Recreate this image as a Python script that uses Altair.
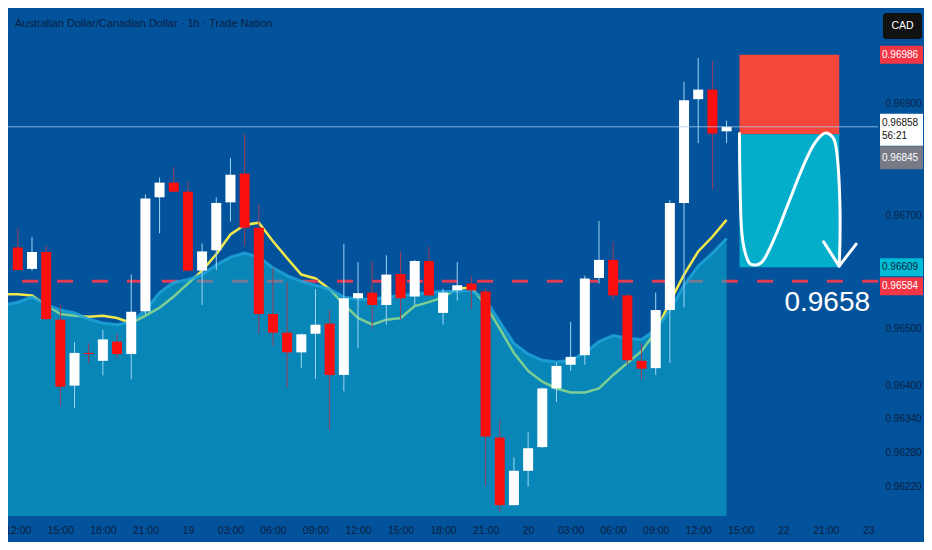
import altair as alt
import pandas as pd

# ---------------- data ----------------
TITLE = "Australian Dollar/Canadian Dollar · 1h · Trade Nation"

bar_index = list(range(51))
opens = [0.96644, 0.96606, 0.96636, 0.96516, 0.96399, 0.96457, 0.96443, 0.96477, 0.96455, 0.96531,
         0.96733, 0.96759, 0.96743, 0.96603, 0.96639, 0.96724, 0.96775, 0.96679, 0.96526, 0.96493,
         0.96458, 0.96491, 0.96509, 0.96418, 0.96554, 0.96564, 0.96542, 0.96597, 0.96557, 0.96620,
         0.96528, 0.96568, 0.96580, 0.96566, 0.96307, 0.96187, 0.96248, 0.96290, 0.96394, 0.96436,
         0.96453, 0.96590, 0.96622, 0.96559, 0.96443, 0.96430, 0.96533, 0.96723, 0.96907, 0.96924,
         0.96850]
highs = [0.96679, 0.96663, 0.96648, 0.96542, 0.96476, 0.96474, 0.96498, 0.96491, 0.96596, 0.96738,
         0.96768, 0.96787, 0.96761, 0.96651, 0.96733, 0.96803, 0.96846, 0.96721, 0.96608, 0.96582,
         0.96491, 0.96570, 0.96533, 0.96650, 0.96618, 0.96620, 0.96630, 0.96637, 0.96622, 0.96646,
         0.96571, 0.96618, 0.96594, 0.96573, 0.96338, 0.96272, 0.96316, 0.96396, 0.96439, 0.96512,
         0.96594, 0.96691, 0.96655, 0.96563, 0.96474, 0.96564, 0.96728, 0.96938, 0.96980, 0.96975,
         0.96869]
lows = [0.96603, 0.96603, 0.96516, 0.96364, 0.96359, 0.96439, 0.96417, 0.96448, 0.96410, 0.96526,
        0.96669, 0.96742, 0.96601, 0.96542, 0.96604, 0.96690, 0.96648, 0.96491, 0.96469, 0.96396,
        0.96430, 0.96411, 0.96321, 0.96389, 0.96465, 0.96500, 0.96507, 0.96516, 0.96542, 0.96557,
        0.96507, 0.96550, 0.96535, 0.96222, 0.96175, 0.96187, 0.96220, 0.96288, 0.96370, 0.96425,
        0.96436, 0.96580, 0.96550, 0.96437, 0.96410, 0.96418, 0.96439, 0.96538, 0.96829, 0.96747,
        0.96829]
closes = [0.96604, 0.96636, 0.96517, 0.96397, 0.96457, 0.96455, 0.96481, 0.96455, 0.96530, 0.96731,
          0.96759, 0.96743, 0.96603, 0.96637, 0.96723, 0.96773, 0.96679, 0.96526, 0.96493, 0.96458,
          0.96490, 0.96507, 0.96418, 0.96554, 0.96563, 0.96542, 0.96596, 0.96554, 0.96620, 0.96559,
          0.96564, 0.96577, 0.96568, 0.96309, 0.96187, 0.96248, 0.96288, 0.96394, 0.96434, 0.96450,
          0.96589, 0.96622, 0.96559, 0.96444, 0.96429, 0.96533, 0.96723, 0.96905, 0.96924, 0.96846,
          0.96858]

line_index = list(range(-1, 51))
ma_values = [0.96561, 0.96561, 0.96559, 0.96542, 0.96526, 0.96523, 0.96521, 0.96523, 0.96519, 0.96510,
             0.96523, 0.96537, 0.96557, 0.96580, 0.96603, 0.96632, 0.96667, 0.96684, 0.96688, 0.96655,
             0.96625, 0.96596, 0.96589, 0.96570, 0.96543, 0.96519, 0.96507, 0.96516, 0.96519, 0.96540,
             0.96547, 0.96556, 0.96571, 0.96573, 0.96542, 0.96500, 0.96457, 0.96425, 0.96406, 0.96394,
             0.96387, 0.96387, 0.96394, 0.96418, 0.96439, 0.96460, 0.96495, 0.96547, 0.96596, 0.96637,
             0.96663, 0.96693]
cloud_top = [0.96542, 0.96547, 0.96556, 0.96543, 0.96533, 0.96528, 0.96517, 0.96510, 0.96507, 0.96512,
             0.96533, 0.96564, 0.96582, 0.96587, 0.96596, 0.96613, 0.96627, 0.96634, 0.96627, 0.96608,
             0.96594, 0.96584, 0.96577, 0.96570, 0.96556, 0.96552, 0.96552, 0.96556, 0.96559, 0.96561,
             0.96564, 0.96566, 0.96566, 0.96568, 0.96552, 0.96512, 0.96474, 0.96455, 0.96444, 0.96441,
             0.96444, 0.96457, 0.96477, 0.96488, 0.96483, 0.96481, 0.96498, 0.96533, 0.96577, 0.96611,
             0.96634, 0.96660]

tick_index = list(range(0, 61, 3))
tick_labels = ["12:00", "15:00", "18:00", "21:00", "19", "03:00", "06:00", "09:00", "12:00", "15:00",
               "18:00", "21:00", "20", "03:00", "06:00", "09:00", "12:00", "15:00", "22", "21:00", "23"]
price_ticks = [0.969, 0.967, 0.965, 0.964, 0.9634, 0.9628, 0.9622]

dashed_level = 0.96584
last_price = 0.96858
countdown = "56:21"
entry_price = 0.96845
stop_price = 0.96986
target_price = 0.96609
trade_start = 50.91
trade_end = 57.95

arrow_idx = [50.91, 50.95, 51.08, 51.48, 52.00, 52.62, 53.42, 54.34, 55.25, 56.05, 56.74, 57.19,
             57.65, 57.88, 58.00, 58.00, 57.94]
arrow_price = [0.96846, 0.96756, 0.96669, 0.96622, 0.96613, 0.96622, 0.96663, 0.96721, 0.96779,
               0.96822, 0.96844, 0.96846, 0.96831, 0.96785, 0.96715, 0.96657, 0.96611]
head_idx = [56.85, 57.94, 59.14]
head_price = [0.96654, 0.96611, 0.96650]

big_label = "0.9658"
big_label_idx = 57.1
big_label_price = 0.96545
currency = "CAD"

# ---------------- style ----------------
W, H = 870, 508
FONT = "Liberation Sans, Arial, sans-serif"
INK = "#0b1f3f"
BG = "#02529c"

x_scale = alt.Scale(domain=[-0.34, 60.33], nice=False, zero=False)
y_scale = alt.Scale(domain=[0.961678, 0.970687], nice=False, zero=False)

label_js = "[" + ",".join("'%s'" % t for t in tick_labels) + "]"
x_axis = alt.Axis(values=tick_index, labelExpr=label_js + "[round(datum.value/3)]", title=None,
                  domain=False, ticks=False, grid=False, labelColor=INK, labelFont=FONT,
                  labelFontSize=10.5, labelPadding=9, labelOverlap=False)
y_axis = alt.Axis(orient="right", values=price_ticks, format=".5f", title=None, domain=False,
                  ticks=False, grid=False, labelColor=INK, labelFont=FONT, labelFontSize=10,
                  labelPadding=7, labelOverlap=False)


def X(f):
    return alt.X(f + ":Q", scale=x_scale, axis=x_axis)


def Y(f):
    return alt.Y(f + ":Q", scale=y_scale, axis=y_axis)


cdf = pd.DataFrame({"i": bar_index, "o": opens, "h": highs, "l": lows, "c": closes})
up = cdf[cdf.c >= cdf.o]
dn = cdf[cdf.c < cdf.o]
ldf = pd.DataFrame({"i": line_index, "ma": ma_values, "top": cloud_top})

layers = []
layers.append(alt.Chart(ldf).mark_line(color="#f3e84c", strokeWidth=2.5).encode(x=X("i"), y=Y("ma")))
layers.append(alt.Chart(pd.DataFrame({"p": [dashed_level]})).mark_rule(
    color="#e13a55", strokeWidth=3, strokeDash=[16, 19]).encode(y=Y("p")))
layers.append(alt.Chart(ldf).mark_area(color="#10b6d2", opacity=0.52).encode(
    x=X("i"), y=Y("top"), y2=alt.datum(0.961678)))
layers.append(alt.Chart(ldf).mark_line(color="#1ea3d8", strokeWidth=3, opacity=0.85).encode(
    x=X("i"), y=Y("top")))

layers.append(alt.Chart(up).mark_rule(color="#9fd4f2", strokeWidth=1).encode(x=X("i"), y=Y("l"), y2="h:Q"))
layers.append(alt.Chart(dn).mark_rule(color="#9a3d55", strokeWidth=1).encode(x=X("i"), y=Y("l"), y2="h:Q"))
layers.append(alt.Chart(up).mark_bar(color="#ffffff", width=10).encode(x=X("i"), y=Y("o"), y2="c:Q"))
layers.append(alt.Chart(dn).mark_bar(color="#fa0f0f", width=10).encode(x=X("i"), y=Y("o"), y2="c:Q"))

bdf = pd.DataFrame({"a": [trade_start] * 2, "b": [trade_end] * 2,
                    "lo": [entry_price, target_price], "hi": [stop_price, entry_price],
                    "k": ["stop", "target"]})
layers.append(alt.Chart(bdf).mark_rect().encode(
    x=X("a"), x2="b:Q", y=Y("lo"), y2="hi:Q",
    color=alt.Color("k:N", scale=alt.Scale(domain=["stop", "target"], range=["#f5463a", "#03aecb"]),
                    legend=None)))

layers.append(alt.Chart(pd.DataFrame({"p": [last_price]})).mark_rule(
    color="#a9c8ea", strokeWidth=1, opacity=0.8).encode(y=Y("p")))

adf = pd.DataFrame({"i": arrow_idx, "p": arrow_price, "k": list(range(len(arrow_idx)))})
layers.append(alt.Chart(adf).mark_line(color="white", strokeWidth=3, interpolate="cardinal",
                                       strokeCap="round").encode(x=X("i"), y=Y("p"), order="k:Q"))
hdf = pd.DataFrame({"i": head_idx, "p": head_price, "k": list(range(len(head_idx)))})
layers.append(alt.Chart(hdf).mark_line(color="white", strokeWidth=3, strokeCap="round",
                                       strokeJoin="round").encode(x=X("i"), y=Y("p"), order="k:Q"))

layers.append(alt.Chart(pd.DataFrame({"i": [big_label_idx], "p": [big_label_price], "t": [big_label]}))
              .mark_text(color="white", font=FONT, fontSize=28, align="center", baseline="middle")
              .encode(x=X("i"), y=Y("p"), text="t:N"))


def tag(price, lines, fill, ink, top, bottom, dys):
    out = [alt.Chart(pd.DataFrame({"p": [price]})).mark_rect(
        color=fill, yOffset=top, y2Offset=bottom).encode(
        x=alt.value(W + 2), x2=alt.value(W + 45), y=Y("p"), y2="p:Q")]
    for text, dy in zip(lines, dys):
        out.append(alt.Chart(pd.DataFrame({"p": [price], "t": [text]})).mark_text(
            align="left", baseline="middle", font=FONT, fontSize=10, color=ink, dy=dy).encode(
            x=alt.value(W + 4), y=Y("p"), text="t:N"))
    return out


layers += tag(stop_price, ["%.5f" % stop_price], "#f23645", "white", -9, 9, [0])
layers += tag(last_price, ["%.5f" % last_price, countdown], "#ffffff", "#111111", -13, 19, [-4, 9])
layers += tag(entry_price, ["%.5f" % entry_price], "#787b86", "white", 12, 35, [24])
layers += tag(target_price, ["%.5f" % target_price], "#00bcd4", INK, -9, 9, [0])
layers += tag(dashed_level, ["%.5f" % dashed_level], "#f23645", "white", -4, 14, [5])

cad = pd.DataFrame({"t": [currency]})
layers.append(alt.Chart(cad).mark_rect(color="#111111", cornerRadius=3).encode(
    x=alt.value(W + 5), x2=alt.value(W + 44), y=alt.value(5), y2=alt.value(31)))
layers.append(alt.Chart(cad).mark_text(color="white", font=FONT, fontSize=10.5, align="center",
                                       baseline="middle").encode(
    x=alt.value(W + 24.5), y=alt.value(18), text="t:N"))

chart = alt.layer(*layers).properties(
    width=W, height=H,
    autosize=alt.AutoSizeParams(type="none"),
    padding={"left": 0, "top": 0, "right": 46, "bottom": 26},
    background=BG,
    title=alt.TitleParams(TITLE, anchor="start", frame="group", offset=-21, dx=7, font=FONT,
                          fontSize=11, fontWeight="normal", color=INK),
).configure_view(stroke=None)

chart.save("out.html", embed_options={"renderer": "svg", "actions": False})
